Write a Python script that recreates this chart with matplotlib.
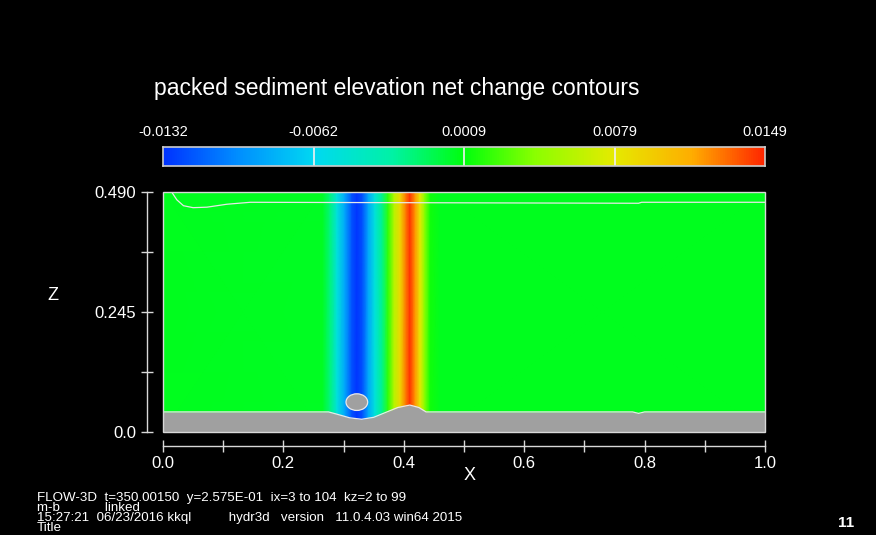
import numpy as np
import matplotlib
matplotlib.use('Agg')
import matplotlib.pyplot as plt
from matplotlib.colors import LinearSegmentedColormap
from matplotlib.patches import Ellipse, Rectangle

plt.rcParams['font.family'] = ['Liberation Sans', 'DejaVu Sans']

# ------------------------------------------------------------
# data
# ------------------------------------------------------------
vmin, vmax = -0.0132, 0.0149
cbar_labels = ['-0.0132', '-0.0062', '0.0009', '0.0079', '0.0149']

# net change (constant in z, varies with x)
field_x = [0.0, 0.265, 0.277, 0.289, 0.302, 0.314, 0.322, 0.331, 0.341,
           0.352, 0.364, 0.374, 0.384, 0.394, 0.404, 0.410, 0.419, 0.427,
           0.435, 0.444, 0.46, 1.0]
field_val = [0.0005, 0.0004, -0.0015, -0.0050, -0.0085, -0.0120, -0.0130,
             -0.0120, -0.0085, -0.0050, -0.0020, 0.0020, 0.0060, 0.0090, 0.0130,
             0.0145, 0.0120, 0.0080, 0.0040, 0.0012, 0.0005, 0.0005]

# packed bed surface
bed_x = [0.0, 0.275, 0.29, 0.31, 0.33, 0.35, 0.37, 0.39, 0.41, 0.425, 0.437,
         0.78, 0.79, 0.80, 1.0]
bed_z = [0.041, 0.041, 0.036, 0.029, 0.026, 0.030, 0.040, 0.050, 0.055, 0.050,
         0.041, 0.041, 0.038, 0.041, 0.041]

# free surface line
surf_x = [0.0144, 0.023, 0.034, 0.05, 0.073, 0.106, 0.145, 0.79, 0.795, 1.0]
surf_z = [0.49, 0.474, 0.462, 0.458, 0.459, 0.465, 0.469, 0.467, 0.469, 0.469]

# pipe
pipe_x, pipe_z, pipe_w, pipe_h = 0.322, 0.061, 0.036, 0.034

x_ticks = np.arange(0, 1.01, 0.1)
x_ticklabels = ['0.0', '', '0.2', '', '0.4', '', '0.6', '', '0.8', '', '1.0']
z_ticks = [0.0, 0.1225, 0.245, 0.3675, 0.49]
z_ticklabels = ['0.0', '', '0.245', '', '0.490']

info_lines = [
    'FLOW-3D  t=350.00150  y=2.575E-01  ix=3 to 104  kz=2 to 99',
    'm-b            linked',
    '15:27:21  06/23/2016 kkql          hydr3d   version   11.0.4.03 win64 2015',
    'Title',
]

# FLOW-3D style colour map
cmap = LinearSegmentedColormap.from_list('flow3d', [
    (0.00, (0.00, 0.20, 1.00)),
    (0.12, (0.00, 0.55, 1.00)),
    (0.25, (0.00, 0.85, 0.95)),
    (0.38, (0.00, 0.95, 0.65)),
    (0.50, (0.00, 1.00, 0.05)),
    (0.62, (0.55, 1.00, 0.00)),
    (0.75, (0.90, 0.92, 0.00)),
    (0.88, (1.00, 0.68, 0.00)),
    (1.00, (1.00, 0.15, 0.00)),
])

W, H = 876, 535
fig = plt.figure(figsize=(W / 100, H / 100), dpi=100, facecolor='black')

def box(l, t, r, b):
    return [l / W, (H - b) / H, (r - l) / W, (b - t) / H]

line_col = '#d8d8d8'

# ------------------------------------------------------------
# main field
# ------------------------------------------------------------
ax = fig.add_axes(box(163, 192, 765, 432))
ax.set_facecolor('black')
X, Z = np.meshgrid(field_x, [0.0, 0.49])
C = np.tile(field_val, (2, 1))
ax.pcolormesh(X, Z, C, cmap=cmap, vmin=vmin, vmax=vmax, shading='gouraud')

ax.fill_between(bed_x, 0, bed_z, color='#a0a0a0', lw=0, zorder=3)
ax.plot(bed_x, bed_z, color='#e8e8e8', lw=0.9, zorder=4)
ax.plot(surf_x, surf_z, color='#e8e8e8', lw=0.9, zorder=4)
ax.add_patch(Ellipse((pipe_x, pipe_z), pipe_w, pipe_h, fc='#a0a0a0',
                     ec='#e8e8e8', lw=0.9, zorder=5))
ax.add_patch(Rectangle((0, 0), 1, 0.49, fill=False, ec=line_col, lw=1.0,
                       zorder=6, clip_on=False))

ax.set_xlim(0, 1)
ax.set_ylim(0, 0.49)
for s in ['top', 'right']:
    ax.spines[s].set_visible(False)
ax.spines['bottom'].set_position(('outward', 10))
ax.spines['left'].set_position(('outward', 11.5))
for s in ['bottom', 'left']:
    ax.spines[s].set_color(line_col)
    ax.spines[s].set_linewidth(1.0)

ax.set_xticks(x_ticks)
ax.set_xticklabels(x_ticklabels)
ax.set_yticks(z_ticks)
ax.set_yticklabels(z_ticklabels)
ax.tick_params(direction='inout', length=8, width=1.0, color=line_col,
               labelcolor='white', labelsize=12)
ax.tick_params(axis='x', pad=3)
ax.tick_params(axis='y', pad=4)

fig.text(470 / W, 1 - 475 / H, 'X', color='white', fontsize=13,
         ha='center', va='center')
fig.text(53 / W, 1 - 296 / H, 'Z', color='white', fontsize=13,
         ha='center', va='center')

# ------------------------------------------------------------
# colour bar
# ------------------------------------------------------------
cax = fig.add_axes(box(163, 147, 765, 166))
grad = np.linspace(vmin, vmax, 512).reshape(1, -1)
cax.imshow(grad, cmap=cmap, vmin=vmin, vmax=vmax, aspect='auto',
           extent=[0, 1, 0, 1])
for f in [0.25, 0.5, 0.75]:
    cax.axvline(f, color='#f0f0f0', lw=1.2)
for s in cax.spines.values():
    s.set_color('#cccccc')
    s.set_linewidth(1.2)
cax.set_xlim(0, 1)
cax.set_yticks([])
cax.set_xticks([0, 0.25, 0.5, 0.75, 1.0])
cax.set_xticklabels(cbar_labels)
cax.xaxis.tick_top()
cax.tick_params(axis='x', length=0, pad=6, labelcolor='white', labelsize=10.5)

fig.text(397 / W, 1 - 88 / H, 'packed sediment elevation net change contours',
         color='white', fontsize=16.5, ha='center', va='center')

# ------------------------------------------------------------
# run info (one block, lines packed tight like the original)
# ------------------------------------------------------------
fig.text(37 / W, 1 - 513 / H, '\n'.join(info_lines), color='white',
         fontsize=9.6, linespacing=0.78, ha='left', va='center')
fig.text(846 / W, 1 - 523 / H, '11', color='white', fontsize=11,
         fontweight='bold', ha='center', va='center')

fig.savefig('out.png', dpi=100, facecolor='black')
